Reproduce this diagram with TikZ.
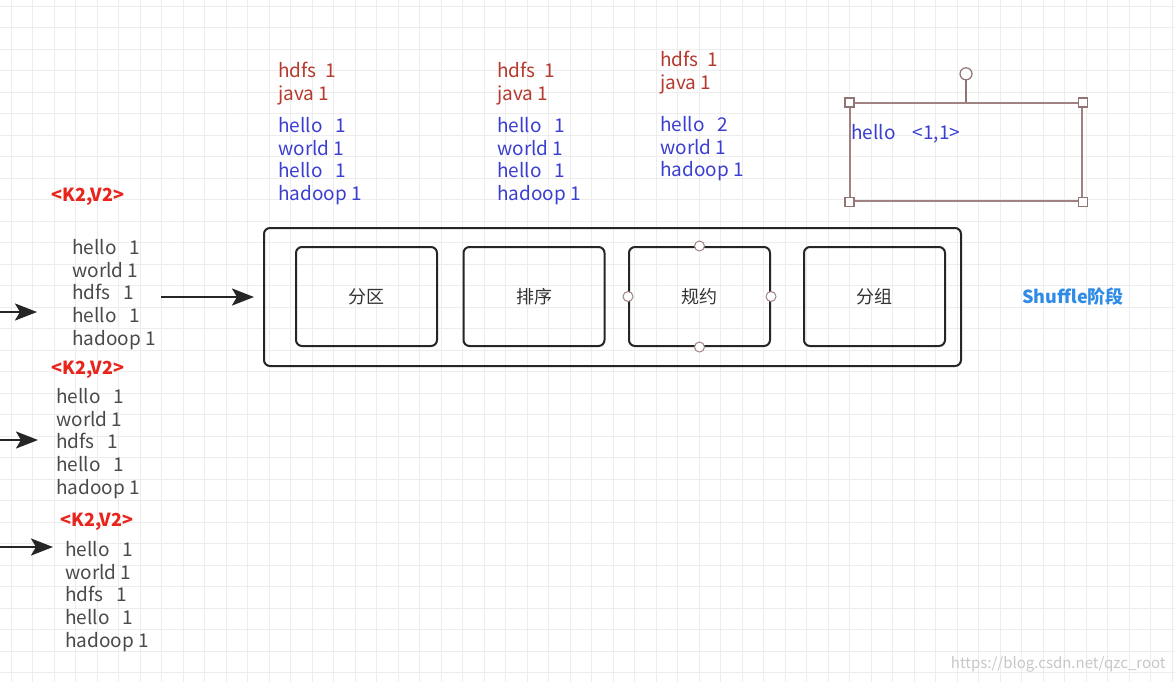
\documentclass[tikz,border=0pt]{standalone}
\usepackage{fontspec}
\setmainfont{Noto Sans CJK SC}
\usepackage{xcolor}
\usetikzlibrary{arrows.meta}

\definecolor{kvred}{HTML}{E8241C}
\definecolor{txtred}{HTML}{B5392C}
\definecolor{txtblue}{HTML}{3B3FD1}
\definecolor{txtgray}{HTML}{4A4A4A}
\definecolor{selbrown}{HTML}{A08282}
\definecolor{shblue}{HTML}{2E8BE6}

\tikzset{
    gridline/.style={draw=black!7, line width=0.5pt},
    kvtitle/.style={text=kvred, font=\fontsize{9}{11}\selectfont\bfseries, inner sep=0},
    pairs/.style={font=\fontsize{9.5}{11.35}\selectfont, align=left, inner sep=0, anchor=north west},
    stagebox/.style={draw=black!85, line width=1pt, rounded corners=3pt,
        minimum width=70.5pt, minimum height=49.5pt, text=black!80,
        font=\fontsize{9}{11}\selectfont},
    arr/.style={draw=black!85, line width=1.2pt, -{Stealth[length=11pt,width=8.5pt,inset=2.5pt]}},
    pinhandle/.style={circle, draw=selbrown, fill=white, inner sep=0, minimum size=5pt, line width=0.5pt},
    sqhandle/.style={rectangle, draw=selbrown!90!black, fill=white, inner sep=0, minimum size=4.5pt, line width=0.6pt},
}

\begin{document}
\begin{tikzpicture}[x=0.5pt, y=-0.5pt]
    \useasboundingbox (0,0) rectangle (1175,682);
    \fill[white] (0,0) rectangle (1175,682);

    % background grid
    \foreach \gx in {11,32.5,...,1175}
        \draw[gridline] (\gx,0) -- (\gx,682);
    \foreach \gy in {6,27.5,...,682}
        \draw[gridline] (0,\gy) -- (1175,\gy);

    % map outputs
    \node[kvtitle] (kv1) at (88,197) {<K2,V2>};
    \node[pairs, text=txtgray] (blk1) at (72,239) {hello~~~1\\world 1\\hdfs~~~1\\hello~~~1\\hadoop 1};

    \node[kvtitle] (kv2) at (88,370) {<K2,V2>};
    \node[pairs, text=txtgray] (blk2) at (56,388) {hello~~~1\\world 1\\hdfs~~~1\\hello~~~1\\hadoop 1};

    \node[kvtitle] (kv3) at (97,522) {<K2,V2>};
    \node[pairs, text=txtgray] (blk3) at (65,541) {hello~~~1\\world 1\\hdfs~~~1\\hello~~~1\\hadoop 1};

    \coordinate (in1) at (0,312);  \coordinate (to1) at (37,312);
    \coordinate (in2) at (0,440);  \coordinate (to2) at (38,440);
    \coordinate (in3) at (0,547);  \coordinate (to3) at (53,547);
    \draw[arr] (in1) -- (to1);
    \draw[arr] (in2) -- (to2);
    \draw[arr] (in3) -- (to3);

    % shuffle
    \node[draw=black!85, line width=1pt, rounded corners=3pt,
        minimum width=348.5pt, minimum height=69pt] (shuffle) at (612.5,297) {};
    \node[stagebox] (fq) at (366.5,296.5) {分区};
    \node[stagebox] (px) at (534,296.5) {排序};
    \node[stagebox] (gy) at (699.5,296.5) {规约};
    \node[stagebox] (fz) at (874.5,296.5) {分组};
    \foreach \c in {north,south,east,west}
        \node[pinhandle] at (gy.\c) {};

    \draw[arr] ([xshift=2.5pt]blk1.east |- shuffle.west) -- ([xshift=-4.5pt]shuffle.west);

    \node[text=shblue, font=\fontsize{9}{11}\selectfont\bfseries, inner sep=0] (phase) at (1073,297) {Shuffle阶段};

    % partitions above the stages
    \node[pairs, text=txtred] (r1) at (278,62) {hdfs~~1\\java 1};
    \node[pairs, text=txtblue] (b1) at (278,117) {hello~~~1\\world 1\\hello~~~1\\hadoop 1};
    \node[pairs, text=txtred] (r2) at (497,62) {hdfs~~1\\java 1};
    \node[pairs, text=txtblue] (b2) at (497,117) {hello~~~1\\world 1\\hello~~~1\\hadoop 1};
    \node[pairs, text=txtred] (r3) at (660,51) {hdfs~~1\\java 1};
    \node[pairs, text=txtblue] (b3) at (660,116) {hello~~~2\\world 1\\hadoop 1};

    % selected group box
    \node[draw=selbrown, line width=0.6pt, minimum width=116pt, minimum height=49pt] (selbox) at (966,152) {};
    \node[pairs, text=txtblue] (grp) at (851,124) {hello~~~~<1,1>};
    \foreach \c in {north west,north east,south west,south east}
        \node[sqhandle] at (selbox.\c) {};
    \draw[draw=selbrown!90!black, line width=0.6pt] (selbox.north) -- ++(0,-22) node[circle, draw=selbrown!90!black, fill=white, inner sep=0, minimum size=6pt, line width=0.6pt, anchor=south] (rot) {};

    % watermark
    \node[text=black!22, font=\fontsize{7.5}{9}\selectfont, anchor=east, inner sep=0] (mark) at (1166,664) {https://blog.csdn.net/qzc\_root};
\end{tikzpicture}
\end{document}
